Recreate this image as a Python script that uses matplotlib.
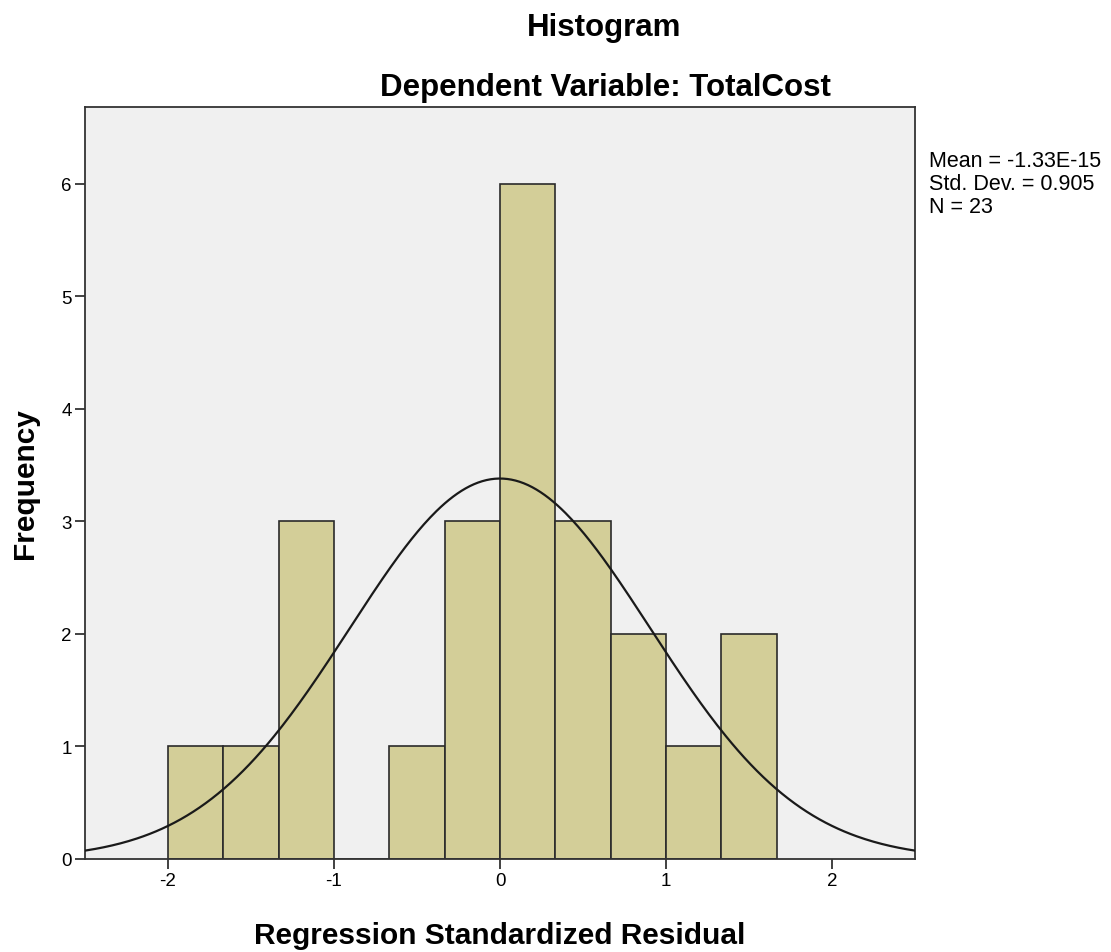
import numpy as np
import matplotlib
matplotlib.use("Agg")
import matplotlib.pyplot as plt

# Data
bin_edges = [-2.0, -5/3, -4/3, -1.0, -2/3, -1/3, 0.0, 1/3, 2/3, 1.0, 4/3, 5/3]
counts = [1, 1, 3, 0, 1, 3, 6, 3, 2, 1, 2]
mean_val = -1.33e-15
std_val = 0.905
n_val = 23
x_ticks = [-2, -1, 0, 1, 2]
y_ticks = [0, 1, 2, 3, 4, 5, 6]

plt.rcParams['font.family'] = ['Liberation Sans', 'DejaVu Sans']

W, H = 1111, 953
fig = plt.figure(figsize=(W / 100, H / 100), dpi=100)
ax = fig.add_axes([85 / W, 1 - 860 / H, 830 / W, 752 / H])
ax.set_facecolor('#F0F0F0')

edges = np.array(bin_edges)
widths = np.diff(edges)
ax.bar(edges[:-1], counts, width=widths, align='edge',
       color='#D3CE98', edgecolor='#2a2a2a', linewidth=1.2, zorder=2)

# fitted normal curve (as SPSS draws it from the stated mean/sd)
bw = widths[0]
xs = np.linspace(-2.5, 2.5, 400)
ys = n_val * bw * np.exp(-0.5 * ((xs - mean_val) / std_val) ** 2) / (std_val * np.sqrt(2 * np.pi))
ax.plot(xs, ys, color='#1a1a1a', linewidth=1.6, zorder=3)

ax.set_xlim(-2.5, 2.5)
ax.set_ylim(0, 6.68)
ax.set_xticks(x_ticks)
ax.set_yticks(y_ticks)
ax.set_xticklabels([str(t) for t in x_ticks])
ax.set_yticklabels([str(t) for t in y_ticks])
ax.tick_params(axis='both', direction='out', length=7.5, width=1.3, color='#333333',
               labelsize=13.5, pad=2)
for s in ax.spines.values():
    s.set_color('#333333')
    s.set_linewidth(1.3)

ax.set_xlabel('Regression Standardized Residual', fontsize=21.5, fontweight='bold', va='center')
ax.xaxis.set_label_coords(0.5, (860 - 936) / 752)
ax.set_ylabel('Frequency', fontsize=21.5, fontweight='bold', va='center')
ax.yaxis.set_label_coords((25 - 85) / 830, 0.5)

fig.text(604 / W, 1 - 28 / H, 'Histogram', ha='center', va='center', fontsize=22.5, fontweight='bold')
fig.text(605 / W, 1 - 88 / H, 'Dependent Variable: TotalCost', ha='center', va='center',
         fontsize=22.5, fontweight='bold')

fig.text(929 / W, 1 - 151 / H, 'Mean = -1.33E-15\nStd. Dev. = 0.905\nN = 23',
         ha='left', va='top', fontsize=15.5, linespacing=1.12)

fig.savefig('out.png', dpi=100)
